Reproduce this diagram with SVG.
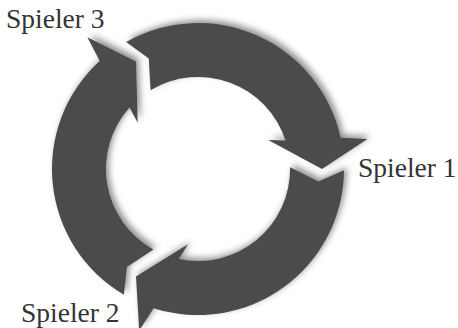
<svg xmlns="http://www.w3.org/2000/svg" xmlns:xlink="http://www.w3.org/1999/xlink" width="458" height="328" viewBox="0 0 458 328">
  <style>
    .arrow { fill: #4b4b4b; }
    .label { font-family: "Liberation Serif", "Times New Roman", serif; font-size: 27.5px; fill: #333333; }
  </style>
  <defs>
    <filter id="sh" x="-20%" y="-20%" width="140%" height="140%">
      <feGaussianBlur in="SourceAlpha" stdDeviation="3"/>
      <feOffset dx="3" dy="-3" result="b"/>
      <feFlood flood-color="#777777" flood-opacity="0.8"/>
      <feComposite in2="b" operator="in"/>
      <feMerge>
        <feMergeNode/>
        <feMergeNode in="SourceGraphic"/>
      </feMerge>
    </filter>
    <path id="arr" d="M123.9,294.8 A146,146 0 0 1 99.7,61.0 L87.4,37.2 L136,61.6 L137.7,122.7 L129.6,107.4 A92,92 0 0 0 153.4,249.5 L126.9,266.9 Z"/>
  </defs>
  <g id="connectors">
    <g id="arrow-to-spieler3" filter="url(#sh)">
      <use xlink:href="#arr" class="arrow"/>
    </g>
    <g id="arrow-to-spieler1" filter="url(#sh)">
      <use xlink:href="#arr" class="arrow" transform="rotate(120 198 169)"/>
    </g>
    <g id="arrow-to-spieler2" filter="url(#sh)">
      <use xlink:href="#arr" class="arrow" transform="rotate(240 198 169)"/>
    </g>
  </g>
  <g id="spieler3">
    <text class="label" x="6" y="28">Spieler 3</text>
  </g>
  <g id="spieler1">
    <text class="label" x="358" y="177">Spieler 1</text>
  </g>
  <g id="spieler2">
    <text class="label" x="21" y="322">Spieler 2</text>
  </g>
</svg>
